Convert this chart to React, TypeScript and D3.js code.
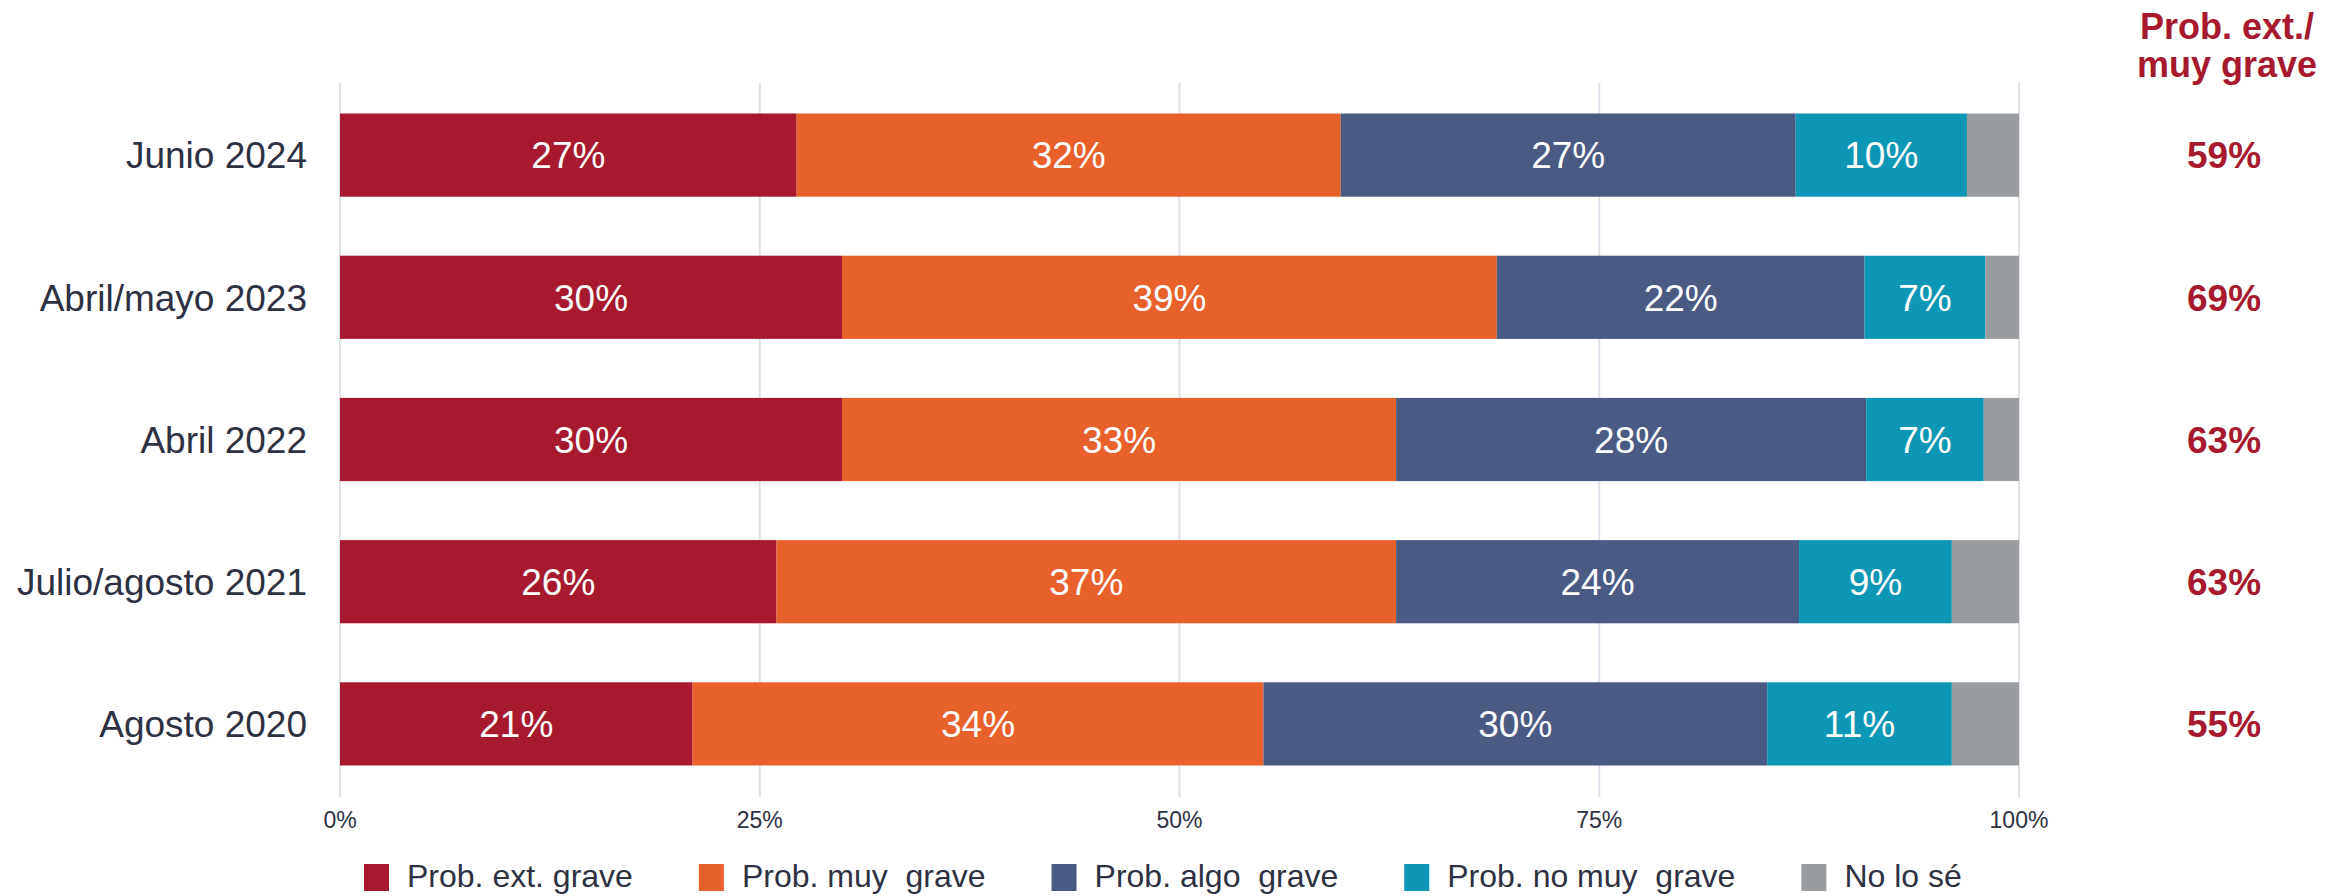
import React from "react";
import * as d3 from "d3";

const categories = ["Junio 2024", "Abril/mayo 2023", "Abril 2022", "Julio/agosto 2021", "Agosto 2020"];
const seriesNames = ["Prob. ext. grave", "Prob. muy  grave", "Prob. algo  grave", "Prob. no muy  grave", "No lo sé"];
const seriesColors = ["#A6192E", "#E8612A", "#4A5A83", "#0D96B5", "#999D9F"];
const extGrave = [27.2, 29.9, 29.9, 26.0, 21.0];
const muyGrave = [32.4, 39.0, 33.0, 36.9, 34.0];
const algoGrave = [27.1, 21.9, 28.0, 24.0, 30.0];
const noMuyGrave = [10.2, 7.2, 7.0, 9.1, 11.0];
const noLoSe = [3.1, 2.0, 2.1, 4.0, 4.0];
const totals = [59, 69, 63, 63, 55];
const xTicks = [0, 25, 50, 75, 100];
const headerLines = ["Prob. ext./", "muy grave"];

const FONT = "'Liberation Sans', Arial, Helvetica, sans-serif";
const TEXT = "#2D3142";
const RED = "#A6192E";

function measure(text: string, size: number) {
  const c = document.createElement("canvas");
  const ctx = c.getContext("2d")!;
  ctx.font = `${size}px ${FONT}`;
  return ctx.measureText(text).width;
}

export default function App() {
  const W = 2348, H = 896;
  const x = d3.scaleLinear().domain([0, 100]).range([340, 2019]);
  const y = d3.scaleBand<string>().domain(categories).range([84, 795]).paddingInner(0.415).paddingOuter(0.2075);
  const series = [extGrave, muyGrave, algoGrave, noMuyGrave, noLoSe];
  const rows = categories.map((c, i) => {
    let acc = 0;
    return series.map((s, k) => {
      const x0 = acc;
      acc += s[i];
      return { cat: c, k, v: s[i], x0, x1: acc };
    });
  });
  const bw = y.bandwidth();

  const legFont = 32;
  let lx = 364;
  const legend = seriesNames.map((n, k) => {
    const item = { n, k, x: lx };
    lx += 43 + measure(n, legFont) + 66;
    return item;
  });

  return (
    <svg width={W} height={H} style={{ position: "absolute", left: 0, top: 0, fontFamily: FONT }}>
      <rect width={W} height={H} fill="#fff" />
      {xTicks.map((t) => (
        <g key={t}>
          <line x1={x(t)} x2={x(t)} y1={83} y2={797} stroke="#DDE1E8" strokeWidth={2} />
          <text x={x(t)} y={828} textAnchor="middle" fontSize={23} fill={TEXT}>{t}%</text>
        </g>
      ))}
      {rows.map((segs, i) => {
        const cy = (y(categories[i]) as number) + bw / 2;
        return (
          <g key={categories[i]}>
            <text x={307} y={cy + 37 * 0.358} textAnchor="end" fontSize={37} fill={TEXT}>{categories[i]}</text>
            {segs.map((s) => (
              <rect key={s.k} x={x(s.x0)} y={y(s.cat)} width={x(s.x1) - x(s.x0)} height={bw} fill={seriesColors[s.k]} />
            ))}
            {segs.filter((s) => s.k < 4).map((s) => (
              <text key={"l" + s.k} x={(x(s.x0) + x(s.x1)) / 2} y={cy + 37 * 0.358} textAnchor="middle" fontSize={37} fill="#fff">
                {Math.round(s.v)}%
              </text>
            ))}
            <text x={2224} y={cy + 37 * 0.358} textAnchor="middle" fontSize={37} fontWeight="bold" fill={RED}>{totals[i]}%</text>
          </g>
        );
      })}
      {headerLines.map((l, j) => (
        <text key={l} x={2227} y={39 + j * 38} textAnchor="middle" fontSize={36} fontWeight="bold" fill={RED}>{l}</text>
      ))}
      {legend.map((it) => (
        <g key={it.n}>
          <rect x={it.x} y={864} width={25} height={27} fill={seriesColors[it.k]} />
          <text x={it.x + 43} y={887} fontSize={legFont} fill={TEXT} style={{ whiteSpace: "pre" }}>{it.n}</text>
        </g>
      ))}
    </svg>
  );
}
